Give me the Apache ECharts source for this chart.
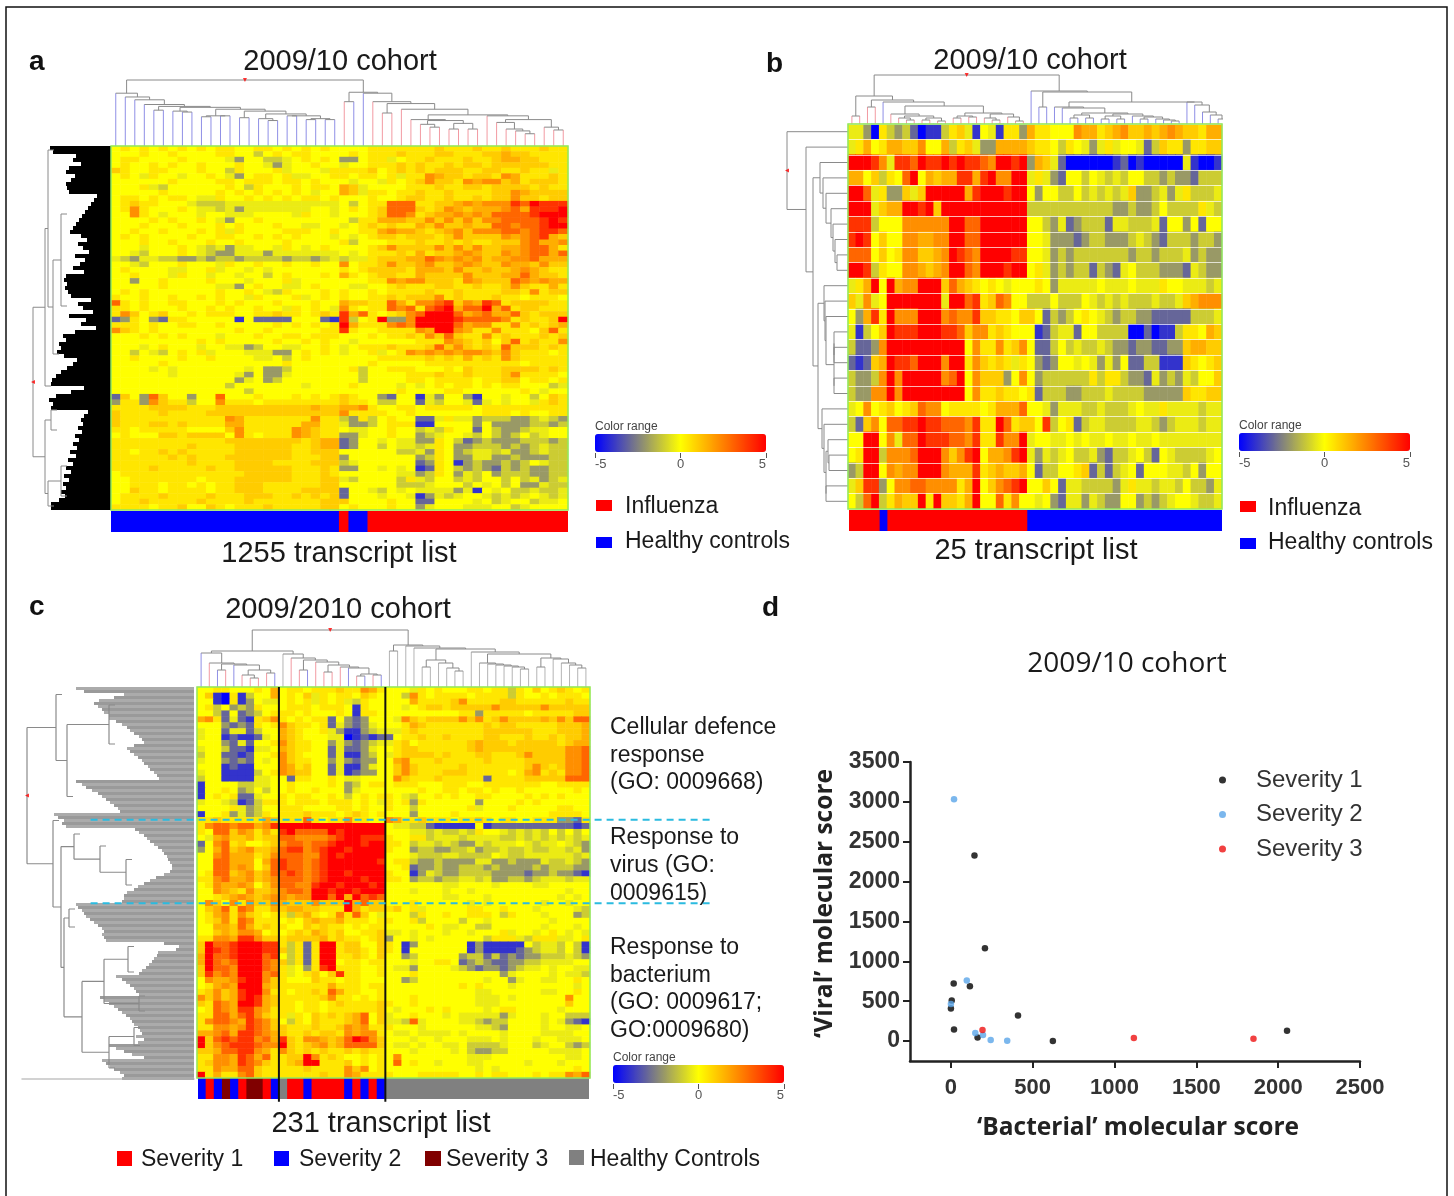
<!DOCTYPE html>
<html>
<head>
<meta charset="utf-8">
<title>Cohort heatmaps</title>
<script src="https://cdn.jsdelivr.net/npm/echarts@6/dist/echarts.min.js"></script>
<style>
  html, body { margin: 0; background: #fff; }
  #main { width: 1454px; height: 1196px; filter: blur(0.6px); }
</style>
</head>
<body>
<div id="main"></div>
<script>
// heatmap cells: one char per cell, base 14 index into cellLevels
const cellLevels = [-5, -4, -3, -2, -1, -0.4, 0, 0.5, 1, 1.6, 2.2, 3, 4, 5];

const heatA = [
'67676767 67677667 76767676 66677777 77877787 78777877',
'66676676 66677664 67677666 67677787 77887778 89887777',
'67766667 66665366 44567676 33677567 78777877 89988777',
'67667676 67666766 53566766 56677787 87787887 88888877',
'87667766 67664766 67566657 77786787 87888778 87787757',
'67657665 66765367 76755667 76776757 7a988788 7a977787',
'66666676 66677677 76776766 65665767 8a887a9a a8978887',
'66675466 66667647 66676776 98566667 77877887 88887877',
'66666766 66676767 67676566 98577677 87787777 88a98888',
'67767677 65576676 76767767 66676678 87787787 88a88788',
'67877666 54445555 55555555 64677bbb 77889a9a aacbdccc',
'67a76667 65545355 55555665 67678bbb 878a9899 9ab9cccd',
'66a76566 65665556 66657665 66678bba 7899a9a9 bbbbcddd',
'66667676 67653667 66666666 64779998 8a8a8a8a abbbbcdc',
'66676667 66676766 67665566 56787877 98a88988 bbabbcdd',
'66766766 67675766 66777667 66779a99 8789a8aa abbabccb',
'67676666 76677667 67676665 65678878 8878a888 8a9abc98',
'66676676 66766766 66766666 74666777 87787877 888ab99a',
'66656667 65453556 65765676 66678a88 88a8a8a8 899abb97',
'66546667 65433555 35555555 65677787 97889a98 8a9abb9b',
'54355443 34344344 44344345 45578889 9ba9a9a8 99aab999',
'66546667 66657667 66766766 a6778a88 9a889a98 8a998a88',
'67666655 66756656 56666666 76788887 9998a889 889a9877',
'66766657 66566566 46766676 97678877 98888a88 899b9887',
'66366766 66766656 66756666 66677a9a a8887a98 88ba9a99',
'66666766 66655367 66556766 65566787 77887787 78a87797',
'67676666 66676676 54766676 76676777 78778777 7887a788',
'76676676 67676657 66675676 76677878 88a78777 87767776',
'b7676677 66676766 67666766 98877b97 aabc8a9c b7888877',
'77676667 66767667 66576765 a7677bab 7bcd9bbd 9b788777',
'7a867866 76777667 78776787 c9b7678a bdddb9ab 99b87888',
'23763277 66666162 22266621 c467d33a ddddcbbb ba78778d',
'77767667 76676666 67676767 d9777aba ddddb9aa 77a78789',
'a8767666 66666766 76666677 c7667777 a9dda977 a77768b7',
'66676767 66656667 66776777 66676778 7a8b877a 78777878',
'66666666 67676666 67667676 65666666 777a9878 68b7877a',
'66656766 65665534 66556676 56777877 78b8a878 7b888787',
'66465467 67566655 53367676 5667567a 9a9a9aa9 8a877767',
'66766667 66766665 56467666 66667777 78787978 7a877777',
'66666766 66666666 66766666 66676666 67777777 77767777',
'66665656 66666656 33466666 67466777 66676877 78888787',
'66666656 66666536 33566666 66466667 77877877 78a77776',
'66666666 66666356 34666666 66466667 76777767 78867767',
'66666666 66664666 66665666 67666656 56767767 67766645',
'66666666 66666646 66666666 66666676 66677666 66676566',
'2863b866 366b6667 66676767 87663266 15366316 65664687',
'3773a877 466a7776 77777777 87764466 25466525 65665787',
'77778888 77788888 88888988 99a76677 67777767 77777777',
'87777877 77888888 88888888 a7777667 66666667 77676677',
'87777777 7777a977 77777a77 43746766 22575534 44334543',
'87778878 77779977 77779977 53346777 11666636 33334434',
'77677777 66668a77 777a9877 65566766 45476626 43345566',
'67666887 88886a76 777a9877 33566766 34566546 43464566',
'77777777 77778888 88887899 23665655 33764234 33344434',
'77777777 87777888 88877899 23664655 45763344 43434544',
'77677878 77777888 88877888 66666644 53763455 45334544',
'77777787 87778888 88877788 36666666 34763355 33433344',
'77777777 87777888 87777888 45666666 23761343 34346544',
'77778777 77877888 88877787 33665656 12764343 24343344',
'67777777 77777788 88877787 66666655 34763546 34443344',
'66777777 76777888 88877788 54666647 54664546 64645345',
'66777677 67677888 77777788 66666644 45666465 64633544',
'66877677 77677888 77778888 26654656 55553516 56445445',
'67777877 77877788 87787878 26665665 13545665 45456545',
'67787777 78777787 77777788 86666766 22666656 45664556',
'77776778 66876777 87777788 67666766 35666555 66456666'
];

const heatB = [
'55307434 20114785 16517739 77666a99 789a8898 9a988799',
'57967998 8a669478 53399998 77647653 57566524 87737788',
'dddca5cc bdccdcdc cbaddcd3 98520000 00120100 00051001',
'9968476b d69899cc 9cdaadd5 75326646 54546644 34332444',
'ddb57338 58ddddd9 cdddcdd6 36644645 45458334 53574445',
'ddd5899d dcd8dddd ddddddd4 44444444 44334334 64444754',
'ccc4666a aaaaaddb bdddddd6 64352344 42554445 26636266',
'cdc6866a a99aaddb bdddddd6 65333234 43334543 24443443',
'bbb6867a a889adcb addddcc6 65343444 44443443 44453433',
'ddc4766a a989addb adddcdd6 75343442 43256444 33325433',
'579d6d9a addd8b98 76765666 76355555 65556555 76655545',
'85a56ddd dddd5ddb c78ba664 44644465 45454445 44589aaa',
'639c7daa adddabaa c8877688 62434676 54344332 22224445',
'51468dcc cdddccb8 aa787666 12455266 44440020 11477698',
'4223addd ddddddd6 a77a78a6 22464544 54332332 23389988',
'21289dcc bdddadd7 a8787576 32366565 35362244 11187678',
'4334adad ddddabd6 a88836a6 34444447 47743325 34354668',
'433aadad ddddddd6 a7787767 24443344 45444433 33387788',
'56a67867 8baa6777 767999b6 65355544 54445655 75555455',
'428a6bbc cdccbbba c77db788 6c467245 54444554 34555455',
'66dd6a5b bdcccbba c77caad5 66556565 56556556 55555555',
'67dd4aaa bddda8ac d699acd5 35456445 32445642 65444456',
'34dd6a9a addda999 c7898896 24466782 42456266 65546366',
'58cc36aa bbaaaa79 d68abcd6 68625544 44357554 55464435',
'64bd4798 8d7d8879 d66b7a66 56325535 43366343 45665445'
];

const heatC = [
'66776667 69677677 7877a976 66576766 67767747 68678767',
'68107146 69676857 67768766 64a76777 76777747 66767776',
'66107136 55676757 67547666 66977778 a7777887 77777877',
'67463437 66677767 77617666 65678878 8888a888 88a88888',
'66426234 67776766 67617766 66666666 77377777 67777788',
'9a725217 8a767677 26323666 5a878888 a8a78a88 8898a8bb',
'66632327 67a87767 25323566 67987777 77787887 77778889',
'56625524 66987667 53113455 57877777 77788888 87778889',
'56612112 56987666 55012122 67787787 77788777 87787889',
'66632526 67a87766 35323455 78677777 78988878 88887899',
'56642215 56987766 25223566 78877777 78988888 88888aab',
'46622126 67a87666 25113465 78888787 77887778 a8888aab',
'56632326 56a87766 35323366 9a777877 77787777 88888aab',
'66612116 66a97866 25113566 8a877777 87777777 8a878aab',
'56611114 67a98866 25123366 8a877788 87777767 9a787aab',
'46611115 56627766 76556666 a8777877 77727777 88888bbb',
'16666445 56676666 76346776 77766677 76677777 77667777',
'16676346 46676676 66356666 66676677 67767667 66666676',
'16767225 66767766 76467677 65466767 66776666 76767666',
'56654124 77767776 77767657 67376666 66366667 67666666',
'66667534 66777666 67767667 66466666 67566676 66667766',
'16673534 76777877 76787676 66366667 66666666 66677776',
'77877777 98777b76 77a7766a 97787776 77876776 67773327',
'7abbabb9 acdddddd ddddddd6 55442111 11612222 22222212',
'76bb8a97 97cdbbbb dcddddd6 66554544 54766545 45464646',
'659a8897 88bbaaaa bcddccc7 66774555 45555445 45454545',
'26ab7866 78abbabb cdddcdd7 76455454 33545556 54556543',
'369b89a8 89bccabc ddcdddd7 66344334 45344544 54455453',
'66ab9997 8abbbaac dcddddd6 66544455 44446544 55555545',
'66bb9996 9bcbbabc ddddddc6 77433433 33553343 33544543',
'66bb9a96 8bcbbabc ddddddd6 67233433 44434333 34344433',
'67bb89a8 9bbcbabc ddcdddd7 66135433 44443333 23343321',
'77ab99a8 9abbbabc ddddcdd7 76344344 55453344 34555455',
'67a99a96 8abbaacd dcdddcd6 66666655 66665666 65566666',
'66a987a8 89abbadd cddcddd6 66566656 65666666 66666566',
'66789a98 9aa9aadd bd9dbcb6 66666655 66656666 66665656',
'6a86a7a8 8a9888a8 88d9b886 66766666 65656666 66566566',
'689b7ba7 79899887 77d97887 86756666 67766766 65666654',
'679a7a87 67748976 7a7b8656 66476676 67776476 66566634',
'678a7ba7 77676898 89777677 66746666 46656666 66656666',
'66998b97 87766878 77676776 66667655 66446666 66566656',
'66898aa9 67678798 78667785 56566656 65666756 65676565',
'77aa9cca 88788889 78776783 66565666 66647775 47775567',
'8dbbcddd cc74727d d7886687 61366666 61311111 64554641',
'8dcbcddd cc84727d d7887687 61666666 61311112 34554641',
'9dbbcddd bc64727d d7787686 63466666 34424232 33444543',
'9dbabddd ba84727d d6776776 66566776 23432233 44555566',
'8dbbaddd ba75637c d7776676 55366665 43233234 55656655',
'8cabaddd ab756786 8c776676 66766666 66666356 66656554',
'6a99acdd a8766687 76776666 63466666 66656635 66556676',
'679a9ddd 98777777 97776776 66666666 76766656 66666656',
'78a89cdd a7767787 b9776676 66666666 66556666 66556676',
'a8a89cdc 98777778 a7767676 66766666 66555656 66666a66',
'87ba9ddc 98776776 78777787 66766666 66555666 66666866',
'67ba9cca 97776776 77777786 56667676 66656776 66665666',
'77bb9bca 87757687 8789b685 66766656 55555356 66566444',
'7abba9cb a8647687 7789b685 54b56666 55434466 66565321',
'77aa9acb a8877787 78a9a777 66656666 66554366 66566556',
'99ab9ccb a9877878 87a9aa76 55655556 56666566 66555566',
'd8bcbcca b9c87aa9 89bdca86 66566566 65556566 65665556',
'd8abcccb aad8789a 89bbbb86 55656655 64444566 64566434',
'889bbcca 97a87878 77878776 66566665 64334466 66655556',
'77aa9cb9 b7788da7 87667676 a6666666 65556666 66666556',
'78aa9cba 87789dd7 77867676 b6766566 65566666 56665666',
'77a99bb8 77777877 77a8a676 66666666 66565666 66666676',
'd7977ab8 77777778 77a97777 66677777 66767766 67677a9b'
];

// sample class per column: b healthy/severity 2, r influenza/severity 1, d severity 3, g control
const classesA = 'bbbbbbbbbbbbbbbbbbbbbbbbrbbrrrrrrrrrrrrrrrrrrrrr';
const classesB = 'rrrrbrrrrrrrrrrrrrrrrrrbbbbbbbbbbbbbbbbbbbbbbbbb';
const classesC = 'brbdbrddrbgrrbrrrrbrbrbggggggggggggggggggggggggg';

// dendrograms: [height, left, right], a number is a leaf spanning that many slots
const topA1 = [29,[28,1,1],[28,1,1]];
const topA2 = [32,[32,1,1],topA1];
const topA3 = [34,[29,1,[27,1,1]],topA2];
const topA4 = [37,[30,1,1],topA3];
const topA5 = [39,[32,[31,1,1],[32,1,1]],topA4];
const topA6 = [41,[37,1,[36,1,1]],topA5];
const topA7 = [42,[38,1,1],topA6];
const topAL = [56,1,[52,1,[49,1,[44,1,topA7]]]];
const topG1 = [28,1,[27,[23,1,[20,1,1]],[24,[18,1,1],[18,1,1]]]];
const topG2 = [32,1,[28,[25,1,[18,1,[16,1,[13,1,1]]]],[20,1,[17,1,1]]]];
const topAR = [57,[47,1,1],[56,1,[47,1,[45,[35,1,1],[39,1,[33,topG1,topG2]]]]]];
const treeTopA = [70,topAL,topAR];

const topBa = [10,1,[8,[6,1,[4,1,1]],[6,[4,1,1],[3,1,1]]]];
const topBb = [11,[8,[6,1,1],[7,1,1]],[10,[6,1,[4,1,1]],[7,1,[3,1,1]]]];
const topBL = [28,[8,1,1],[24,[17,1,1],[22,1,[18,topBa,topBb]]]];
const topBd3 = [8,1,[7,[5,1,1],[5,1,[4,1,[3,1,1]]]]];
const topBd2 = [10,[8,[5,1,1],[5,1,1]],topBd3];
const topBd = [17,1,[16,1,[11,[9,[6,1,1],[6,1,1]],topBd2]]];
const topBe = [22,1,[19,1,[12,1,[9,1,[5,1,1]]]]];
const topBR = [33,1,[32,[17,1,1],[22,topBd,topBe]]];
const treeTopB = [49,topBL,topBR];

const topCa = [34,1,[24,1,[23,[17,1,1],[22,1,[17,[12,1,[9,1,1]],[14,1,1]]]]]];
const topCt = [22,[15,1,1],[20,1,[19,1,[13,[11,1,1],[12,1,1]]]]];
const topCb = [33,1,[29,1,[27,[17,1,1],[25,1,topCt]]]];
const topCg1 = [27,[20,1,1],[24,1,[19,1,[16,1,1]]]];
const topCg2 = [24,1,[23,1,[22,1,[21,1,[20,1,[18,1,1]]]]]];
const topCg3 = [29,[20,1,1],[28,1,[24,1,[22,1,[19,1,1]]]]];
const topCR = [42,[36,1,1],[41,1,[39,1,[38,topCg1,[35,1,[33,topCg2,topCg3]]]]]];
const treeTopC = [57,[36,topCa,topCb],topCR];

const sideA1 = [66,[63,2,[58,[50,30,16],8]],8];
const sideA2 = [66,[60,4,6],[63,[50,12,3],2]];
const treeSideA = [78,sideA1,sideA2];

const sideBx = [28,1,[25,1,[22,1,[17,1,[15,1,[13,1,[11,1,1]]]]]]];
const sideBp = [24,1,[23,1,[22,1,[14,[14,1,[14,1,1]],[14,1,1]]]]];
const sideBq = [26,1,[24,1,[22,[20,1,[19,1,1]],[22,1,1]]]];
const treeSideB = [61,1,[42,1,[35,sideBx,[30,sideBp,sideBq]]]];

const sideCv = [120,4,[94,4,[68,5,12]]];
const sideCw = [130,[125,4,8],[112,[90,[66,5,12],[55,4,6]],[85,[60,5,7],8]]];
const treeSideC = [167,[138,5,[127,[85,2,24],11]],[141,5,[133,sideCv,sideCw]]];

// how far the packed leaves of the row trees reach from the heatmap edge
const massA = [61,58,35,38,30,42,45,36,40,45,44,42,14,17,20,23,26,29,32,35,38,41,30,24,33,28,22,36,26,31,38,27,45,47,44,46,43,40,20,33,28,18,42,25,30,15,36,48,45,52,50,54,47,34,38,44,50,55,59,60,27,40,55,62,58,60,23,27,30,28,33,29,36,32,38,34,41,35,43,38,45,40,47,42,48,45,50,46,52,60,60];
const massC = [118,110,70,80,95,100,96,92,90,85,85,78,72,67,64,60,55,52,50,60,67,64,60,56,52,50,46,44,40,37,35,118,112,108,102,96,92,88,84,80,76,74,140,136,130,132,128,59,55,50,47,44,40,36,32,30,27,26,24,22,22,24,30,38,44,50,56,60,67,70,70,72,118,116,112,110,108,104,100,96,92,90,92,90,88,30,15,18,36,37,40,42,45,48,52,55,78,72,68,64,60,58,55,94,90,85,80,76,72,68,64,62,60,56,54,52,58,50,56,85,78,70,62,50,92,88,84,80,74,70,72];

// panel c overlays
const dividerCols = [10, 23];
const cyanRows = [22.4, 36.5];

// panel d
const severity1 = [[144,2327],[208,1165],[17,723],[116,689],[5,510],[0,409],[410,322],[19,146],[163,46],[623,0],[2054,130]];
const severity2 = [[19,3033],[97,760],[0,464],[149,100],[196,75],[243,13],[344,4]];
const severity3 = [[193,138],[1118,38],[1849,29]];
const xTicksD = [0,500,1000,1500,2000,2500];
const yTicksD = [0,500,1000,1500,2000,2500,3000,3500];

const rampColors = ['#0000ff','#808080','#ffff00','#ff8000','#ff0000'];
const classColors = { r:'#ff0000', b:'#0000ff', d:'#800000', g:'#808080' };
const legColors = { r:'#f29aa2', b:'#8f8fe6', d:'#f29aa2', g:'#b4b4b4', inner:'#8a8a8a' };
const FONT = '"Liberation Sans", Arial, sans-serif';

const grids = [], xAxes = [], yAxes = [], series = [], visualMaps = [], graphics = [];

function addGrid(rect, x, y, extra) {
  grids.push(Object.assign({ containLabel:false, show:false }, rect, extra));
  const gridIndex = grids.length - 1;
  xAxes.push(Object.assign({ gridIndex, show:false }, x));
  yAxes.push(Object.assign({ gridIndex, show:false }, y));
  return gridIndex;
}
function addSeries(s) {
  series.push(Object.assign({ silent:true, animation:false }, s));
  return series.length - 1;
}
function indices(n) { return Array.from({ length:n }, (_, i) => i); }

function addHeat(rows, rect, separators) {
  const cells = [];
  const clean = rows.map(r => r.replace(/ /g, ''));
  clean.forEach((r, y) => {
    for (let x = 0; x < r.length; x++) cells.push([x, y, cellLevels[parseInt(r[x], 14)]]);
  });
  const yAxis = { type:'category', data:indices(rows.length), inverse:true };
  if (separators) {
    Object.assign(yAxis, { show:true, z:5, axisLine:{show:false}, axisTick:{show:false}, axisLabel:{show:false},
      splitLine:{ show:true, interval:0, lineStyle:{ color:'rgba(255,255,255,0.7)', width:1 } } });
  }
  const g = addGrid(rect, { type:'category', data:indices(clean[0].length) }, yAxis,
    { show:true, z:6, borderColor:'#90e860', borderWidth:1.5, backgroundColor:'transparent' });
  return addSeries({ type:'heatmap', xAxisIndex:g, yAxisIndex:g, data:cells, progressive:0, itemStyle:{ borderWidth:0 } });
}

function addClassBar(classes, rect) {
  const g = addGrid(rect, { type:'category', data:indices(classes.length) }, { type:'value', min:0, max:1 });
  addSeries({ type:'bar', xAxisIndex:g, yAxisIndex:g, barWidth:'112%',
    data:classes.split('').map(c => ({ value:1, itemStyle:{ color:classColors[c] } })) });
}

function addTree(tree, rect, slots, side, classes, width) {
  const maxH = tree[0];
  const g = side
    ? addGrid(rect, { type:'value', min:0, max:rect.width, inverse:true }, { type:'value', min:0, max:slots, inverse:true })
    : addGrid(rect, { type:'value', min:0, max:slots }, { type:'value', min:0, max:maxH });
  const pt = (p, h) => side ? [h, p] : [p, h];
  const groups = { inner:[] };
  let cursor = 0;
  function add(key, a, b) { (groups[key] = groups[key] || []).push(a, b, [null, null]); }
  function walk(n) {
    if (typeof n === 'number') {
      const at = cursor;
      cursor += n;
      return { pos:at + n / 2, h:0, w:n, key:classes ? classes[at] : 'inner' };
    }
    const l = walk(n[1]), r = walk(n[2]), h = n[0];
    [l, r].forEach(c => {
      const low = c.w > 1 ? Math.max(h - 6, 0) : c.h;
      add(c.key, pt(c.pos, low), pt(c.pos, h));
    });
    add('inner', pt(l.pos, h), pt(r.pos, h));
    return { pos:(l.pos + r.pos) / 2, h, w:0, key:'inner' };
  }
  const root = walk(tree);
  Object.keys(groups).forEach(key => {
    addSeries({ type:'line', xAxisIndex:g, yAxisIndex:g, data:groups[key], symbol:'none', connectNulls:false, clip:false,
      lineStyle:{ color:legColors[key], width:width || 1 }, z:key === 'inner' ? 4 : 3 });
  });
  addSeries({ type:'scatter', xAxisIndex:g, yAxisIndex:g, data:[pt(root.pos, root.h)], clip:false, symbol:'triangle', symbolRotate:side ? 90 : 180,
    symbolSize:4, itemStyle:{ color:'#ff0000' }, z:5 });
}

function addMass(values, rect, colorFn) {
  const g = addGrid(rect, { type:'value', min:0, max:rect.width, inverse:true },
    { type:'category', data:indices(values.length), inverse:true });
  addSeries({ type:'bar', xAxisIndex:g, yAxisIndex:g, barWidth:'100%',
    data:values.map((v, i) => ({ value:v, itemStyle:{ color:colorFn(i) } })) });
}

function addRange(heatIndex, left, top) {
  visualMaps.push({ type:'continuous', min:-5, max:5, seriesIndex:heatIndex, orient:'horizontal', left, top,
    itemWidth:18, itemHeight:171, padding:0, calculable:false, hoverLink:false, text:null, inRange:{ color:rampColors } });
  addGrid({ left, top:top + 18, width:171, height:1 },
    { show:true, type:'value', min:-5, max:5, interval:5, position:'bottom', splitLine:{show:false},
      axisLine:{ show:false }, axisTick:{ length:5, lineStyle:{ color:'#555' } },
      axisLabel:{ show:true, margin:5, fontSize:13, color:'#555', fontFamily:FONT, alignMinLabel:'left', alignMaxLabel:'right' } },
    { type:'value', min:0, max:1 });
  text('Color range', left, top - 9, 12, { fill:'#444' });
}

function text(t, x, y, size, o) {
  graphics.push({ type:'text', x, y:y + 2, silent:true, z:20,
    style:Object.assign({ text:t, fontSize:size, fontFamily:FONT, fill:'#1a1a1a', textAlign:'left', textVerticalAlign:'middle' }, o) });
}
function swatch(x, y, w, h, fill) {
  graphics.push({ type:'rect', silent:true, z:20, shape:{ x, y, width:w, height:h }, style:{ fill } });
}

// frame round the figure
graphics.push({ type:'rect', silent:true, z:19, shape:{ x:6, y:7, width:1441, height:1300 }, style:{ fill:'none', stroke:'#111', lineWidth:1.5 } });

// panel a
const heatIndexA = addHeat(heatA, { left:111, top:146, width:457, height:364 });
addClassBar(classesA, { left:111, top:511, width:457, height:21 });
addTree(treeTopA, { left:111, top:80, width:457, height:66 }, 48, false, classesA);
addMass(massA, { left:33, top:146, width:78, height:364 }, () => '#000');
addTree(treeSideA, { left:33, top:146, width:78, height:364 }, 91, true);
addRange(heatIndexA, 595, 434);
text('a', 29, 60, 28, { fontWeight:'bold', fill:'#111' });
text('2009/10 cohort', 340, 60, 29, { textAlign:'center' });
text('1255 transcript list', 339, 552, 29, { textAlign:'center' });
swatch(596, 500, 16, 11, '#ff0000');
swatch(596, 537, 16, 11, '#0000ff');
text('Influenza', 625, 505, 23);
text('Healthy controls', 625, 540, 23);

// panel b
const heatIndexB = addHeat(heatB, { left:848, top:124, width:374, height:385 }, true);
addClassBar(classesB, { left:849, top:510, width:373, height:21 });
addTree(treeTopB, { left:848, top:75, width:374, height:49 }, 48, false, classesB);
addTree(treeSideB, { left:787, top:124, width:61, height:385 }, 25, true);
addRange(heatIndexB, 1239, 433);
text('b', 766, 62, 28, { fontWeight:'bold', fill:'#111' });
text('2009/10 cohort', 1030, 59, 29, { textAlign:'center' });
text('25 transcript list', 1036, 549, 29, { textAlign:'center' });
swatch(1240, 501, 16, 11, '#ff0000');
swatch(1240, 538, 16, 11, '#0000ff');
text('Influenza', 1268, 507, 23);
text('Healthy controls', 1268, 541, 23);

// panel c
const heatIndexC = addHeat(heatC, { left:197, top:687, width:393, height:391 });
addClassBar(classesC, { left:198, top:1078, width:391, height:21 });
addTree(treeTopC, { left:197, top:630, width:393, height:57 }, 48, false, classesC);
addMass(massC, { left:22, top:687, width:172, height:393 }, i => i % 2 ? '#9a9a9a' : '#ababab');
addGrid({ left:22, top:1078, width:172, height:1 },
  { show:true, type:'value', min:0, max:172, axisLine:{ lineStyle:{ color:'#c4c4c4', width:1.5 } }, axisTick:{show:false}, axisLabel:{show:false}, splitLine:{show:false} },
  { type:'value', min:0, max:1 });
addTree(treeSideC, { left:27, top:687, width:167, height:393 }, 131, true, null, 1.2);
const overlay = addGrid({ left:90.6, top:687, width:622.25, height:414.7 },
  { type:'value', min:-13, max:63 }, { type:'value', min:0, max:70, inverse:true });
dividerCols.forEach(c => addSeries({ type:'line', xAxisIndex:overlay, yAxisIndex:overlay, data:[[c, 0], [c, 70]], symbol:'none', z:8,
  lineStyle:{ color:'#111', width:2 } }));
cyanRows.forEach(r => addSeries({ type:'line', xAxisIndex:overlay, yAxisIndex:overlay, data:[[-13, r], [63, r]], symbol:'none', z:8,
  lineStyle:{ color:'#2bbbe0', width:2, type:[7, 5] } }));
addRange(heatIndexC, 613, 1065);
text('c', 29, 605, 28, { fontWeight:'bold', fill:'#111' });
text('2009/2010 cohort', 338, 608, 29, { textAlign:'center' });
text('231 transcript list', 381, 1122, 29, { textAlign:'center' });
[['Cellular defence',726],['response',754],['(GO: 0009668)',781],['Response to',836],['virus (GO:',864],['0009615)',892],
 ['Response to',946],['bacterium',974],['(GO: 0009617;',1001],['GO:0009680)',1029]].forEach(l => text(l[0], 610, l[1], 23));
swatch(117, 1151, 15, 15, classColors.r);
swatch(274, 1151, 15, 15, classColors.b);
swatch(425, 1151, 16, 15, classColors.d);
swatch(569, 1150, 15, 15, classColors.g);
text('Severity 1', 141, 1158, 23);
text('Severity 2', 299, 1158, 23);
text('Severity 3', 446, 1158, 23);
text('Healthy Controls', 590, 1158, 23);

// panel d
const gd = addGrid({ left:910, top:762, width:450, height:299 },
  { show:true, type:'value', min:-250, max:2500, interval:250,
    name:'\u2018Bacterial\u2019 molecular score', nameLocation:'middle', nameGap:55, nameTextStyle:{ fontSize:24.5, fontWeight:'bold', color:'#222', fontFamily:'"Open Sans", sans-serif', padding:[0,0,0,6] },
    splitLine:{show:false}, axisLine:{ onZero:false, lineStyle:{ color:'#222', width:2.5 } },
    axisTick:{ length:7, customValues:xTicksD, lineStyle:{ color:'#222', width:2 } },
    axisLabel:{ customValues:xTicksD, formatter:v => String(v), fontSize:22, fontWeight:'bold', color:'#333', margin:16, fontFamily:FONT } },
  { show:true, type:'value', min:-250, max:3500, interval:250,
    name:'\u2018Viral\u2019 molecular score', nameLocation:'middle', nameGap:72, nameTextStyle:{ fontSize:24.5, fontWeight:'bold', color:'#222', fontFamily:'"Open Sans", sans-serif', padding:[0,0,0,16] },
    splitLine:{show:false}, axisLine:{ onZero:false, lineStyle:{ color:'#222', width:2.5 } },
    axisTick:{ length:7, customValues:yTicksD, lineStyle:{ color:'#222', width:2 } },
    axisLabel:{ customValues:yTicksD, formatter:v => String(v), fontSize:23, fontWeight:'bold', color:'#333', margin:10, fontFamily:FONT } });
[['Severity 1', severity1, '#000000'], ['Severity 2', severity2, '#5aa5e8'], ['Severity 3', severity3, '#ee1111']].forEach(s => {
  addSeries({ type:'scatter', name:s[0], xAxisIndex:gd, yAxisIndex:gd, data:s[1], symbol:'circle', symbolSize:6.5, itemStyle:{ color:s[2] }, z:6 });
});
text('d', 762, 606, 28, { fontWeight:'bold', fill:'#111' });
text('2009/10 cohort', 1127, 662, 28, { textAlign:'center', fontFamily:'"Open Sans", sans-serif' });

var myChart = echarts.init(document.getElementById('main'));
myChart.setOption({
  animation:false,
  backgroundColor:'#fff',
  textStyle:{ fontFamily:FONT },
  legend:{ show:true, orient:'vertical', left:1214, top:763, itemWidth:7, itemHeight:7, itemGap:10.5, icon:'circle', selectedMode:false,
    data:['Severity 1','Severity 2','Severity 3'], textStyle:{ fontSize:24, color:'#333', padding:[0,0,0,25] } },
  grid:grids,
  xAxis:xAxes,
  yAxis:yAxes,
  visualMap:visualMaps,
  series:series,
  graphic:{ elements:graphics }
});
</script>
</body>
</html>
